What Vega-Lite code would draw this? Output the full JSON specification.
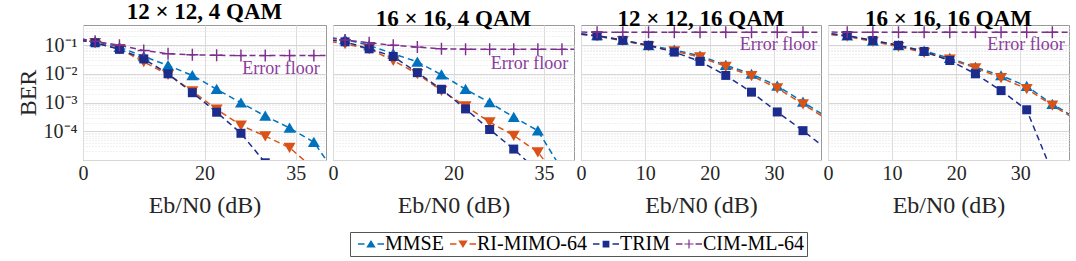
{
  "$schema": "https://vega.github.io/schema/vega-lite/v6.json",
  "padding": {"left": 15, "top": 0, "right": 3, "bottom": 2},
  "background": "white",
  "bounds": "flush",
  "datasets": {
    "ber": [
      {"panel":"p1","method":"MMSE","snr":-2,"ber":0.19},
      {"panel":"p1","method":"MMSE","snr":2,"ber":0.135},
      {"panel":"p1","method":"MMSE","snr":6,"ber":0.085},
      {"panel":"p1","method":"MMSE","snr":10,"ber":0.04},
      {"panel":"p1","method":"MMSE","snr":14,"ber":0.0195},
      {"panel":"p1","method":"MMSE","snr":18,"ber":0.0088},
      {"panel":"p1","method":"MMSE","snr":22,"ber":0.0029},
      {"panel":"p1","method":"MMSE","snr":26,"ber":0.00098},
      {"panel":"p1","method":"MMSE","snr":30,"ber":0.00034},
      {"panel":"p1","method":"MMSE","snr":34,"ber":0.00013},
      {"panel":"p1","method":"MMSE","snr":38,"ber":0.000042},
      {"panel":"p1","method":"MMSE","snr":42,"ber":0.0000025},
      {"panel":"p1","method":"RI-MIMO-64","snr":-2,"ber":0.17},
      {"panel":"p1","method":"RI-MIMO-64","snr":2,"ber":0.12},
      {"panel":"p1","method":"RI-MIMO-64","snr":6,"ber":0.074},
      {"panel":"p1","method":"RI-MIMO-64","snr":10,"ber":0.026},
      {"panel":"p1","method":"RI-MIMO-64","snr":14,"ber":0.0093},
      {"panel":"p1","method":"RI-MIMO-64","snr":18,"ber":0.0025},
      {"panel":"p1","method":"RI-MIMO-64","snr":22,"ber":0.00058},
      {"panel":"p1","method":"RI-MIMO-64","snr":26,"ber":0.00016},
      {"panel":"p1","method":"RI-MIMO-64","snr":30,"ber":0.000068},
      {"panel":"p1","method":"RI-MIMO-64","snr":34,"ber":0.000027},
      {"panel":"p1","method":"RI-MIMO-64","snr":38,"ber":0.000005},
      {"panel":"p1","method":"TRIM","snr":-2,"ber":0.17},
      {"panel":"p1","method":"TRIM","snr":2,"ber":0.12},
      {"panel":"p1","method":"TRIM","snr":6,"ber":0.071},
      {"panel":"p1","method":"TRIM","snr":10,"ber":0.033},
      {"panel":"p1","method":"TRIM","snr":14,"ber":0.01},
      {"panel":"p1","method":"TRIM","snr":18,"ber":0.0022},
      {"panel":"p1","method":"TRIM","snr":22,"ber":0.00046},
      {"panel":"p1","method":"TRIM","snr":26,"ber":0.000085},
      {"panel":"p1","method":"TRIM","snr":30,"ber":0.000008},
      {"panel":"p1","method":"CIM-ML-64","snr":-2,"ber":0.18},
      {"panel":"p1","method":"CIM-ML-64","snr":2,"ber":0.135},
      {"panel":"p1","method":"CIM-ML-64","snr":6,"ber":0.098},
      {"panel":"p1","method":"CIM-ML-64","snr":10,"ber":0.065},
      {"panel":"p1","method":"CIM-ML-64","snr":14,"ber":0.05},
      {"panel":"p1","method":"CIM-ML-64","snr":18,"ber":0.046},
      {"panel":"p1","method":"CIM-ML-64","snr":22,"ber":0.044},
      {"panel":"p1","method":"CIM-ML-64","snr":26,"ber":0.043},
      {"panel":"p1","method":"CIM-ML-64","snr":30,"ber":0.043},
      {"panel":"p1","method":"CIM-ML-64","snr":34,"ber":0.043},
      {"panel":"p1","method":"CIM-ML-64","snr":38,"ber":0.043},
      {"panel":"p1","method":"CIM-ML-64","snr":42,"ber":0.043},

      {"panel":"p2","method":"MMSE","snr":-2,"ber":0.2},
      {"panel":"p2","method":"MMSE","snr":2,"ber":0.158},
      {"panel":"p2","method":"MMSE","snr":6,"ber":0.098},
      {"panel":"p2","method":"MMSE","snr":10,"ber":0.05},
      {"panel":"p2","method":"MMSE","snr":14,"ber":0.026},
      {"panel":"p2","method":"MMSE","snr":18,"ber":0.0093},
      {"panel":"p2","method":"MMSE","snr":22,"ber":0.0029},
      {"panel":"p2","method":"MMSE","snr":26,"ber":0.001},
      {"panel":"p2","method":"MMSE","snr":30,"ber":0.00031},
      {"panel":"p2","method":"MMSE","snr":34,"ber":0.000105},
      {"panel":"p2","method":"MMSE","snr":38,"ber":0.0000046},
      {"panel":"p2","method":"RI-MIMO-64","snr":-2,"ber":0.15},
      {"panel":"p2","method":"RI-MIMO-64","snr":2,"ber":0.11},
      {"panel":"p2","method":"RI-MIMO-64","snr":6,"ber":0.074},
      {"panel":"p2","method":"RI-MIMO-64","snr":10,"ber":0.029},
      {"panel":"p2","method":"RI-MIMO-64","snr":14,"ber":0.01},
      {"panel":"p2","method":"RI-MIMO-64","snr":18,"ber":0.0026},
      {"panel":"p2","method":"RI-MIMO-64","snr":22,"ber":0.00075},
      {"panel":"p2","method":"RI-MIMO-64","snr":26,"ber":0.00021},
      {"panel":"p2","method":"RI-MIMO-64","snr":30,"ber":0.000071},
      {"panel":"p2","method":"RI-MIMO-64","snr":34,"ber":0.000019},
      {"panel":"p2","method":"RI-MIMO-64","snr":38,"ber":0.0000015},
      {"panel":"p2","method":"TRIM","snr":-2,"ber":0.17},
      {"panel":"p2","method":"TRIM","snr":2,"ber":0.13},
      {"panel":"p2","method":"TRIM","snr":6,"ber":0.074},
      {"panel":"p2","method":"TRIM","snr":10,"ber":0.04},
      {"panel":"p2","method":"TRIM","snr":14,"ber":0.011},
      {"panel":"p2","method":"TRIM","snr":18,"ber":0.0029},
      {"panel":"p2","method":"TRIM","snr":22,"ber":0.0006},
      {"panel":"p2","method":"TRIM","snr":26,"ber":0.000115},
      {"panel":"p2","method":"TRIM","snr":30,"ber":0.000024},
      {"panel":"p2","method":"TRIM","snr":34,"ber":0.000004},
      {"panel":"p2","method":"CIM-ML-64","snr":-2,"ber":0.19},
      {"panel":"p2","method":"CIM-ML-64","snr":2,"ber":0.15},
      {"panel":"p2","method":"CIM-ML-64","snr":6,"ber":0.12},
      {"panel":"p2","method":"CIM-ML-64","snr":10,"ber":0.098},
      {"panel":"p2","method":"CIM-ML-64","snr":14,"ber":0.085},
      {"panel":"p2","method":"CIM-ML-64","snr":18,"ber":0.074},
      {"panel":"p2","method":"CIM-ML-64","snr":22,"ber":0.072},
      {"panel":"p2","method":"CIM-ML-64","snr":26,"ber":0.071},
      {"panel":"p2","method":"CIM-ML-64","snr":30,"ber":0.071},
      {"panel":"p2","method":"CIM-ML-64","snr":34,"ber":0.071},
      {"panel":"p2","method":"CIM-ML-64","snr":38,"ber":0.071},
      {"panel":"p2","method":"CIM-ML-64","snr":42,"ber":0.071},

      {"panel":"p3","method":"MMSE","snr":-1.5,"ber":0.27},
      {"panel":"p3","method":"MMSE","snr":2.5,"ber":0.215},
      {"panel":"p3","method":"MMSE","snr":6.5,"ber":0.15},
      {"panel":"p3","method":"MMSE","snr":10.5,"ber":0.098},
      {"panel":"p3","method":"MMSE","snr":14.5,"ber":0.068},
      {"panel":"p3","method":"MMSE","snr":18.5,"ber":0.042},
      {"panel":"p3","method":"MMSE","snr":22.5,"ber":0.02},
      {"panel":"p3","method":"MMSE","snr":26.5,"ber":0.0098},
      {"panel":"p3","method":"MMSE","snr":30.5,"ber":0.0038},
      {"panel":"p3","method":"MMSE","snr":34.5,"ber":0.00105},
      {"panel":"p3","method":"MMSE","snr":38.5,"ber":0.00028},
      {"panel":"p3","method":"RI-MIMO-64","snr":-1.5,"ber":0.26},
      {"panel":"p3","method":"RI-MIMO-64","snr":2.5,"ber":0.205},
      {"panel":"p3","method":"RI-MIMO-64","snr":6.5,"ber":0.142},
      {"panel":"p3","method":"RI-MIMO-64","snr":10.5,"ber":0.093},
      {"panel":"p3","method":"RI-MIMO-64","snr":14.5,"ber":0.062},
      {"panel":"p3","method":"RI-MIMO-64","snr":18.5,"ber":0.038},
      {"panel":"p3","method":"RI-MIMO-64","snr":22.5,"ber":0.018},
      {"panel":"p3","method":"RI-MIMO-64","snr":26.5,"ber":0.0085},
      {"panel":"p3","method":"RI-MIMO-64","snr":30.5,"ber":0.0032},
      {"panel":"p3","method":"RI-MIMO-64","snr":34.5,"ber":0.00088},
      {"panel":"p3","method":"RI-MIMO-64","snr":38.5,"ber":0.00024},
      {"panel":"p3","method":"TRIM","snr":-1.5,"ber":0.26},
      {"panel":"p3","method":"TRIM","snr":2.5,"ber":0.21},
      {"panel":"p3","method":"TRIM","snr":6.5,"ber":0.146},
      {"panel":"p3","method":"TRIM","snr":10.5,"ber":0.098},
      {"panel":"p3","method":"TRIM","snr":14.5,"ber":0.057},
      {"panel":"p3","method":"TRIM","snr":18.5,"ber":0.027},
      {"panel":"p3","method":"TRIM","snr":22.5,"ber":0.0088},
      {"panel":"p3","method":"TRIM","snr":26.5,"ber":0.0023},
      {"panel":"p3","method":"TRIM","snr":30.5,"ber":0.00047},
      {"panel":"p3","method":"TRIM","snr":34.5,"ber":0.000105},
      {"panel":"p3","method":"TRIM","snr":38.5,"ber":0.000021},
      {"panel":"p3","method":"CIM-ML-64","snr":-1.5,"ber":0.285},
      {"panel":"p3","method":"CIM-ML-64","snr":2.5,"ber":0.28},
      {"panel":"p3","method":"CIM-ML-64","snr":6.5,"ber":0.28},
      {"panel":"p3","method":"CIM-ML-64","snr":10.5,"ber":0.28},
      {"panel":"p3","method":"CIM-ML-64","snr":14.5,"ber":0.28},
      {"panel":"p3","method":"CIM-ML-64","snr":18.5,"ber":0.28},
      {"panel":"p3","method":"CIM-ML-64","snr":22.5,"ber":0.28},
      {"panel":"p3","method":"CIM-ML-64","snr":26.5,"ber":0.28},
      {"panel":"p3","method":"CIM-ML-64","snr":30.5,"ber":0.28},
      {"panel":"p3","method":"CIM-ML-64","snr":34.5,"ber":0.28},
      {"panel":"p3","method":"CIM-ML-64","snr":38.5,"ber":0.28},

      {"panel":"p4","method":"MMSE","snr":-1,"ber":0.26},
      {"panel":"p4","method":"MMSE","snr":3,"ber":0.21},
      {"panel":"p4","method":"MMSE","snr":7,"ber":0.14},
      {"panel":"p4","method":"MMSE","snr":11,"ber":0.097},
      {"panel":"p4","method":"MMSE","snr":15,"ber":0.063},
      {"panel":"p4","method":"MMSE","snr":19,"ber":0.035},
      {"panel":"p4","method":"MMSE","snr":23,"ber":0.017},
      {"panel":"p4","method":"MMSE","snr":27,"ber":0.0087},
      {"panel":"p4","method":"MMSE","snr":31,"ber":0.0037},
      {"panel":"p4","method":"MMSE","snr":35,"ber":0.00088},
      {"panel":"p4","method":"MMSE","snr":39,"ber":0.00026},
      {"panel":"p4","method":"RI-MIMO-64","snr":-1,"ber":0.25},
      {"panel":"p4","method":"RI-MIMO-64","snr":3,"ber":0.2},
      {"panel":"p4","method":"RI-MIMO-64","snr":7,"ber":0.133},
      {"panel":"p4","method":"RI-MIMO-64","snr":11,"ber":0.088},
      {"panel":"p4","method":"RI-MIMO-64","snr":15,"ber":0.055},
      {"panel":"p4","method":"RI-MIMO-64","snr":19,"ber":0.032},
      {"panel":"p4","method":"RI-MIMO-64","snr":23,"ber":0.016},
      {"panel":"p4","method":"RI-MIMO-64","snr":27,"ber":0.0073},
      {"panel":"p4","method":"RI-MIMO-64","snr":31,"ber":0.003},
      {"panel":"p4","method":"RI-MIMO-64","snr":35,"ber":0.0008},
      {"panel":"p4","method":"RI-MIMO-64","snr":39,"ber":0.00023},
      {"panel":"p4","method":"TRIM","snr":-1,"ber":0.27},
      {"panel":"p4","method":"TRIM","snr":3,"ber":0.215},
      {"panel":"p4","method":"TRIM","snr":7,"ber":0.145},
      {"panel":"p4","method":"TRIM","snr":11,"ber":0.098},
      {"panel":"p4","method":"TRIM","snr":15,"ber":0.06},
      {"panel":"p4","method":"TRIM","snr":19,"ber":0.029},
      {"panel":"p4","method":"TRIM","snr":23,"ber":0.01},
      {"panel":"p4","method":"TRIM","snr":27,"ber":0.0026},
      {"panel":"p4","method":"TRIM","snr":31,"ber":0.00056},
      {"panel":"p4","method":"TRIM","snr":35,"ber":0.0000036},
      {"panel":"p4","method":"CIM-ML-64","snr":-1,"ber":0.285},
      {"panel":"p4","method":"CIM-ML-64","snr":3,"ber":0.28},
      {"panel":"p4","method":"CIM-ML-64","snr":7,"ber":0.28},
      {"panel":"p4","method":"CIM-ML-64","snr":11,"ber":0.28},
      {"panel":"p4","method":"CIM-ML-64","snr":15,"ber":0.28},
      {"panel":"p4","method":"CIM-ML-64","snr":19,"ber":0.28},
      {"panel":"p4","method":"CIM-ML-64","snr":23,"ber":0.28},
      {"panel":"p4","method":"CIM-ML-64","snr":27,"ber":0.28},
      {"panel":"p4","method":"CIM-ML-64","snr":31,"ber":0.28},
      {"panel":"p4","method":"CIM-ML-64","snr":35,"ber":0.28},
      {"panel":"p4","method":"CIM-ML-64","snr":39,"ber":0.28}
    ],
    "notes": [
      {"panel":"p1","snr":32.6,"ber":0.0146,"label":"Error floor"},
      {"panel":"p2","snr":32.6,"ber":0.022,"label":"Error floor"},
      {"panel":"p3","snr":30.7,"ber":0.1,"label":"Error floor"},
      {"panel":"p4","snr":30.9,"ber":0.1,"label":"Error floor"}
    ]
  },
  "spacing": 7,
  "resolve": {"scale": {"x": "independent", "y": "independent", "color": "shared", "shape": "shared"}, "legend": {"color": "shared", "shape": "shared"}},
  "hconcat": [
    {
      "title": "12 × 12, 4 QAM",
      "width": 243, "height": 135,
      "layer": [
        {
          "data": {"name": "ber"},
          "transform": [{"filter": "datum.panel === 'p1'"}],
          "mark": {"type": "line", "strokeDash": [6, 4], "strokeWidth": 1.5, "clip": true},
          "encoding": {
            "x": {"field": "snr", "type": "quantitative", "scale": {"domain": [0, 40], "nice": false, "zero": false}, "axis": {"values": [0, 20, 35], "title": "Eb/N0 (dB)"}},
            "y": {"field": "ber", "type": "quantitative", "scale": {"type": "log", "domain": [0.00001, 0.5], "nice": false},
                  "axis": {"title": "BER", "values": [0.00001,0.00002,0.00003,0.00004,0.00005,0.00006,0.00007,0.00008,0.00009,0.0001,0.0002,0.0003,0.0004,0.0005,0.0006,0.0007,0.0008,0.0009,0.001,0.002,0.003,0.004,0.005,0.006,0.007,0.008,0.009,0.01,0.02,0.03,0.04,0.05,0.06,0.07,0.08,0.09,0.1,0.2,0.3,0.4],
                           "labelExpr": "datum.value === 0.1 ? '10⁻¹' : datum.value === 0.01 ? '10⁻²' : datum.value === 0.001 ? '10⁻³' : datum.value === 0.0001 ? '10⁻⁴' : ''",
                           "gridDash": {"condition": {"test": "indexof([0.1,0.01,0.001,0.0001,0.00001], datum.value) >= 0", "value": []}, "value": [1, 2]},
                           "gridColor": {"condition": {"test": "indexof([0.1,0.01,0.001,0.0001,0.00001], datum.value) >= 0", "value": "#d6d6d6"}, "value": "#e2e2e2"}}},
            "color": {"field": "method", "type": "nominal", "title": null,
                      "scale": {"domain": ["MMSE", "RI-MIMO-64", "TRIM", "CIM-ML-64"], "range": ["#0072BD", "#D95319", "#1c2c8c", "#7E2F8E"]}}
          }
        },
        {
          "data": {"name": "ber"},
          "transform": [{"filter": "datum.panel === 'p1'"}],
          "mark": {"type": "point", "filled": true, "opacity": 0, "size": 81, "clip": true},
          "encoding": {
            "x": {"field": "snr", "type": "quantitative"},
            "y": {"field": "ber", "type": "quantitative"},
            "color": {"field": "method", "type": "nominal", "title": null},
            "shape": {"field": "method", "type": "nominal", "title": null,
                      "scale": {"domain": ["MMSE", "RI-MIMO-64", "TRIM", "CIM-ML-64"], "range": [
                        "M-2.9,-0.17H-1.45V0.17H-2.9Z M1.45,-0.17H2.9V0.17H1.45Z M0,-0.9L1.05,0.8H-1.05Z",
                        "M-2.9,-0.17H-1.45V0.17H-2.9Z M1.45,-0.17H2.9V0.17H1.45Z M0,0.9L1.05,-0.8H-1.05Z",
                        "M-2.9,-0.17H-1.45V0.17H-2.9Z M1.45,-0.17H2.9V0.17H1.45Z M-0.75,-0.75H0.75V0.75H-0.75Z",
                        "M-2.9,-0.17H-1.45V0.17H-2.9Z M1.45,-0.17H2.9V0.17H1.45Z M-1,-0.13H1V0.13H-1Z M-0.13,-1H0.13V1H-0.13Z"]}}
          }
        },
        {"data": {"name": "ber"}, "transform": [{"filter": "datum.panel === 'p1' && datum.method === 'MMSE'"}],
         "mark": {"type": "point", "filled": true, "opacity": 1, "size": 144, "clip": true, "color": "#0072BD", "shape": "M0,-0.9L1,0.8H-1Z"},
         "encoding": {"x": {"field": "snr", "type": "quantitative"}, "y": {"field": "ber", "type": "quantitative"}}},
        {"data": {"name": "ber"}, "transform": [{"filter": "datum.panel === 'p1' && datum.method === 'RI-MIMO-64'"}],
         "mark": {"type": "point", "filled": true, "opacity": 1, "size": 144, "clip": true, "color": "#D95319", "shape": "M0,0.9L1,-0.8H-1Z"},
         "encoding": {"x": {"field": "snr", "type": "quantitative"}, "y": {"field": "ber", "type": "quantitative"}}},
        {"data": {"name": "ber"}, "transform": [{"filter": "datum.panel === 'p1' && datum.method === 'TRIM'"}],
         "mark": {"type": "point", "filled": true, "opacity": 1, "size": 144, "clip": true, "color": "#1c2c8c", "shape": "M-0.75,-0.75H0.75V0.75H-0.75Z"},
         "encoding": {"x": {"field": "snr", "type": "quantitative"}, "y": {"field": "ber", "type": "quantitative"}}},
        {"data": {"name": "ber"}, "transform": [{"filter": "datum.panel === 'p1' && datum.method === 'CIM-ML-64'"}],
         "mark": {"type": "point", "filled": true, "opacity": 1, "size": 144, "clip": true, "color": "#7E2F8E", "shape": "M-1,-0.12H1V0.12H-1Z M-0.12,-1H0.12V1H-0.12Z"},
         "encoding": {"x": {"field": "snr", "type": "quantitative"}, "y": {"field": "ber", "type": "quantitative"}}},
        {
          "data": {"name": "notes"},
          "transform": [{"filter": "datum.panel === 'p1'"}],
          "mark": {"type": "text", "font": "Liberation Serif", "fontSize": 18, "color": "#8b3d9c", "align": "center", "baseline": "middle"},
          "encoding": {"x": {"field": "snr", "type": "quantitative"}, "y": {"field": "ber", "type": "quantitative"}, "text": {"field": "label"}}
        }
      ]
    },
    {
      "title": "16 × 16, 4 QAM",
      "width": 241, "height": 135,
      "layer": [
        {
          "data": {"name": "ber"},
          "transform": [{"filter": "datum.panel === 'p2'"}],
          "mark": {"type": "line", "strokeDash": [6, 4], "strokeWidth": 1.5, "clip": true},
          "encoding": {
            "x": {"field": "snr", "type": "quantitative", "scale": {"domain": [0, 40], "nice": false, "zero": false}, "axis": {"values": [0, 20, 35], "title": "Eb/N0 (dB)"}},
            "y": {"field": "ber", "type": "quantitative", "scale": {"type": "log", "domain": [0.00001, 0.5], "nice": false},
                  "axis": {"title": null, "labels": false, "values": [0.00001,0.00002,0.00003,0.00004,0.00005,0.00006,0.00007,0.00008,0.00009,0.0001,0.0002,0.0003,0.0004,0.0005,0.0006,0.0007,0.0008,0.0009,0.001,0.002,0.003,0.004,0.005,0.006,0.007,0.008,0.009,0.01,0.02,0.03,0.04,0.05,0.06,0.07,0.08,0.09,0.1,0.2,0.3,0.4],
                           "gridDash": {"condition": {"test": "indexof([0.1,0.01,0.001,0.0001,0.00001], datum.value) >= 0", "value": []}, "value": [1, 2]},
                           "gridColor": {"condition": {"test": "indexof([0.1,0.01,0.001,0.0001,0.00001], datum.value) >= 0", "value": "#d6d6d6"}, "value": "#e2e2e2"}}},
            "color": {"field": "method", "type": "nominal", "title": null,
                      "scale": {"domain": ["MMSE", "RI-MIMO-64", "TRIM", "CIM-ML-64"], "range": ["#0072BD", "#D95319", "#1c2c8c", "#7E2F8E"]}}
          }
        },
        {"data": {"name": "ber"}, "transform": [{"filter": "datum.panel === 'p2' && datum.method === 'MMSE'"}],
         "mark": {"type": "point", "filled": true, "opacity": 1, "size": 144, "clip": true, "color": "#0072BD", "shape": "M0,-0.9L1,0.8H-1Z"},
         "encoding": {"x": {"field": "snr", "type": "quantitative"}, "y": {"field": "ber", "type": "quantitative"}}},
        {"data": {"name": "ber"}, "transform": [{"filter": "datum.panel === 'p2' && datum.method === 'RI-MIMO-64'"}],
         "mark": {"type": "point", "filled": true, "opacity": 1, "size": 144, "clip": true, "color": "#D95319", "shape": "M0,0.9L1,-0.8H-1Z"},
         "encoding": {"x": {"field": "snr", "type": "quantitative"}, "y": {"field": "ber", "type": "quantitative"}}},
        {"data": {"name": "ber"}, "transform": [{"filter": "datum.panel === 'p2' && datum.method === 'TRIM'"}],
         "mark": {"type": "point", "filled": true, "opacity": 1, "size": 144, "clip": true, "color": "#1c2c8c", "shape": "M-0.75,-0.75H0.75V0.75H-0.75Z"},
         "encoding": {"x": {"field": "snr", "type": "quantitative"}, "y": {"field": "ber", "type": "quantitative"}}},
        {"data": {"name": "ber"}, "transform": [{"filter": "datum.panel === 'p2' && datum.method === 'CIM-ML-64'"}],
         "mark": {"type": "point", "filled": true, "opacity": 1, "size": 144, "clip": true, "color": "#7E2F8E", "shape": "M-1,-0.12H1V0.12H-1Z M-0.12,-1H0.12V1H-0.12Z"},
         "encoding": {"x": {"field": "snr", "type": "quantitative"}, "y": {"field": "ber", "type": "quantitative"}}},
        {
          "data": {"name": "notes"},
          "transform": [{"filter": "datum.panel === 'p2'"}],
          "mark": {"type": "text", "font": "Liberation Serif", "fontSize": 18, "color": "#8b3d9c", "align": "center", "baseline": "middle"},
          "encoding": {"x": {"field": "snr", "type": "quantitative"}, "y": {"field": "ber", "type": "quantitative"}, "text": {"field": "label"}}
        }
      ]
    },
    {
      "title": "12 × 12, 16 QAM",
      "width": 240, "height": 135,
      "layer": [
        {
          "data": {"name": "ber"},
          "transform": [{"filter": "datum.panel === 'p3'"}],
          "mark": {"type": "line", "strokeDash": [6, 4], "strokeWidth": 1.5, "clip": true},
          "encoding": {
            "x": {"field": "snr", "type": "quantitative", "scale": {"domain": [0, 37.3], "nice": false, "zero": false}, "axis": {"values": [0, 10, 20, 30], "title": "Eb/N0 (dB)"}},
            "y": {"field": "ber", "type": "quantitative", "scale": {"type": "log", "domain": [0.00001, 0.5], "nice": false},
                  "axis": {"title": null, "labels": false, "values": [0.00001,0.00002,0.00003,0.00004,0.00005,0.00006,0.00007,0.00008,0.00009,0.0001,0.0002,0.0003,0.0004,0.0005,0.0006,0.0007,0.0008,0.0009,0.001,0.002,0.003,0.004,0.005,0.006,0.007,0.008,0.009,0.01,0.02,0.03,0.04,0.05,0.06,0.07,0.08,0.09,0.1,0.2,0.3,0.4],
                           "gridDash": {"condition": {"test": "indexof([0.1,0.01,0.001,0.0001,0.00001], datum.value) >= 0", "value": []}, "value": [1, 2]},
                           "gridColor": {"condition": {"test": "indexof([0.1,0.01,0.001,0.0001,0.00001], datum.value) >= 0", "value": "#d6d6d6"}, "value": "#e2e2e2"}}},
            "color": {"field": "method", "type": "nominal", "title": null,
                      "scale": {"domain": ["MMSE", "RI-MIMO-64", "TRIM", "CIM-ML-64"], "range": ["#0072BD", "#D95319", "#1c2c8c", "#7E2F8E"]}}
          }
        },
        {"data": {"name": "ber"}, "transform": [{"filter": "datum.panel === 'p3' && datum.method === 'MMSE'"}],
         "mark": {"type": "point", "filled": true, "opacity": 1, "size": 144, "clip": true, "color": "#0072BD", "shape": "M0,-0.9L1,0.8H-1Z"},
         "encoding": {"x": {"field": "snr", "type": "quantitative"}, "y": {"field": "ber", "type": "quantitative"}}},
        {"data": {"name": "ber"}, "transform": [{"filter": "datum.panel === 'p3' && datum.method === 'RI-MIMO-64'"}],
         "mark": {"type": "point", "filled": true, "opacity": 1, "size": 144, "clip": true, "color": "#D95319", "shape": "M0,0.9L1,-0.8H-1Z"},
         "encoding": {"x": {"field": "snr", "type": "quantitative"}, "y": {"field": "ber", "type": "quantitative"}}},
        {"data": {"name": "ber"}, "transform": [{"filter": "datum.panel === 'p3' && datum.method === 'TRIM'"}],
         "mark": {"type": "point", "filled": true, "opacity": 1, "size": 144, "clip": true, "color": "#1c2c8c", "shape": "M-0.75,-0.75H0.75V0.75H-0.75Z"},
         "encoding": {"x": {"field": "snr", "type": "quantitative"}, "y": {"field": "ber", "type": "quantitative"}}},
        {"data": {"name": "ber"}, "transform": [{"filter": "datum.panel === 'p3' && datum.method === 'CIM-ML-64'"}],
         "mark": {"type": "point", "filled": true, "opacity": 1, "size": 144, "clip": true, "color": "#7E2F8E", "shape": "M-1,-0.12H1V0.12H-1Z M-0.12,-1H0.12V1H-0.12Z"},
         "encoding": {"x": {"field": "snr", "type": "quantitative"}, "y": {"field": "ber", "type": "quantitative"}}},
        {
          "data": {"name": "notes"},
          "transform": [{"filter": "datum.panel === 'p3'"}],
          "mark": {"type": "text", "font": "Liberation Serif", "fontSize": 18, "color": "#8b3d9c", "align": "center", "baseline": "middle"},
          "encoding": {"x": {"field": "snr", "type": "quantitative"}, "y": {"field": "ber", "type": "quantitative"}, "text": {"field": "label"}}
        }
      ]
    },
    {
      "title": "16 × 16, 16 QAM",
      "width": 241, "height": 135,
      "layer": [
        {
          "data": {"name": "ber"},
          "transform": [{"filter": "datum.panel === 'p4'"}],
          "mark": {"type": "line", "strokeDash": [6, 4], "strokeWidth": 1.5, "clip": true},
          "encoding": {
            "x": {"field": "snr", "type": "quantitative", "scale": {"domain": [0, 37.6], "nice": false, "zero": false}, "axis": {"values": [0, 10, 20, 30], "title": "Eb/N0 (dB)"}},
            "y": {"field": "ber", "type": "quantitative", "scale": {"type": "log", "domain": [0.00001, 0.5], "nice": false},
                  "axis": {"title": null, "labels": false, "values": [0.00001,0.00002,0.00003,0.00004,0.00005,0.00006,0.00007,0.00008,0.00009,0.0001,0.0002,0.0003,0.0004,0.0005,0.0006,0.0007,0.0008,0.0009,0.001,0.002,0.003,0.004,0.005,0.006,0.007,0.008,0.009,0.01,0.02,0.03,0.04,0.05,0.06,0.07,0.08,0.09,0.1,0.2,0.3,0.4],
                           "gridDash": {"condition": {"test": "indexof([0.1,0.01,0.001,0.0001,0.00001], datum.value) >= 0", "value": []}, "value": [1, 2]},
                           "gridColor": {"condition": {"test": "indexof([0.1,0.01,0.001,0.0001,0.00001], datum.value) >= 0", "value": "#d6d6d6"}, "value": "#e2e2e2"}}},
            "color": {"field": "method", "type": "nominal", "title": null,
                      "scale": {"domain": ["MMSE", "RI-MIMO-64", "TRIM", "CIM-ML-64"], "range": ["#0072BD", "#D95319", "#1c2c8c", "#7E2F8E"]}}
          }
        },
        {"data": {"name": "ber"}, "transform": [{"filter": "datum.panel === 'p4' && datum.method === 'MMSE'"}],
         "mark": {"type": "point", "filled": true, "opacity": 1, "size": 144, "clip": true, "color": "#0072BD", "shape": "M0,-0.9L1,0.8H-1Z"},
         "encoding": {"x": {"field": "snr", "type": "quantitative"}, "y": {"field": "ber", "type": "quantitative"}}},
        {"data": {"name": "ber"}, "transform": [{"filter": "datum.panel === 'p4' && datum.method === 'RI-MIMO-64'"}],
         "mark": {"type": "point", "filled": true, "opacity": 1, "size": 144, "clip": true, "color": "#D95319", "shape": "M0,0.9L1,-0.8H-1Z"},
         "encoding": {"x": {"field": "snr", "type": "quantitative"}, "y": {"field": "ber", "type": "quantitative"}}},
        {"data": {"name": "ber"}, "transform": [{"filter": "datum.panel === 'p4' && datum.method === 'TRIM'"}],
         "mark": {"type": "point", "filled": true, "opacity": 1, "size": 144, "clip": true, "color": "#1c2c8c", "shape": "M-0.75,-0.75H0.75V0.75H-0.75Z"},
         "encoding": {"x": {"field": "snr", "type": "quantitative"}, "y": {"field": "ber", "type": "quantitative"}}},
        {"data": {"name": "ber"}, "transform": [{"filter": "datum.panel === 'p4' && datum.method === 'CIM-ML-64'"}],
         "mark": {"type": "point", "filled": true, "opacity": 1, "size": 144, "clip": true, "color": "#7E2F8E", "shape": "M-1,-0.12H1V0.12H-1Z M-0.12,-1H0.12V1H-0.12Z"},
         "encoding": {"x": {"field": "snr", "type": "quantitative"}, "y": {"field": "ber", "type": "quantitative"}}},
        {
          "data": {"name": "notes"},
          "transform": [{"filter": "datum.panel === 'p4'"}],
          "mark": {"type": "text", "font": "Liberation Serif", "fontSize": 18, "color": "#8b3d9c", "align": "center", "baseline": "middle"},
          "encoding": {"x": {"field": "snr", "type": "quantitative"}, "y": {"field": "ber", "type": "quantitative"}, "text": {"field": "label"}}
        }
      ]
    }
  ],
  "config": {
    "font": "Liberation Serif",
    "view": {"stroke": "#9a9a9a", "strokeWidth": 1},
    "axis": {"labelFont": "Liberation Serif", "labelFontSize": 20, "labelColor": "#262626", "titleFont": "Liberation Serif", "titleFontSize": 24, "titleFontWeight": "normal", "titleColor": "#262626", "domain": false, "ticks": false, "tickSize": 0, "gridColor": "#dcdcdc", "gridOpacity": 1, "labelOverlap": false, "labelFlush": false},
    "axisX": {"labelPadding": 3, "titlePadding": 10},
    "axisY": {"labelPadding": 6, "titlePadding": 3},
    "title": {"font": "Liberation Serif", "fontSize": 23, "fontWeight": "bold", "color": "#000000", "offset": -6, "baseline": "alphabetic"},
    "legend": {"orient": "none", "legendX": 267, "legendY": 207, "direction": "horizontal", "symbolSize": 81, "symbolOffset": 9, "labelOffset": 4, "columnPadding": 0, "labelFont": "Liberation Serif", "labelFontSize": 20, "labelColor": "#000000", "strokeColor": "#555555", "padding": 2, "symbolOpacity": 1, "symbolStrokeWidth": 0}
  }
}
